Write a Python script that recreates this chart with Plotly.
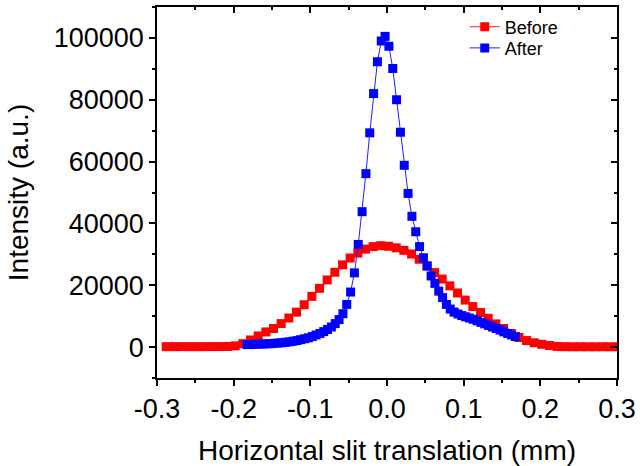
import plotly.graph_objects as go

# ---------------- data ----------------
before_x = [-0.288, -0.278, -0.268, -0.258, -0.248, -0.238, -0.228, -0.218, -0.208, -0.198,
            -0.188, -0.178, -0.168, -0.158, -0.148, -0.138, -0.128, -0.118, -0.108, -0.098,
            -0.088, -0.078, -0.068, -0.058, -0.048, -0.038, -0.028, -0.018, -0.008, 0.002,
            0.012, 0.022, 0.032, 0.042, 0.052, 0.062, 0.072, 0.082, 0.092, 0.102,
            0.112, 0.122, 0.132, 0.142, 0.152, 0.162, 0.172, 0.182, 0.192, 0.202,
            0.212, 0.222, 0.232, 0.242, 0.252, 0.262, 0.272, 0.282, 0.292, 0.302]
before_y = [150, 140, 160, 150, 140, 150, 160, 170, 200, 400,
            1100, 2300, 3600, 4900, 6000, 7600, 9400, 11300, 13700, 16400,
            19000, 21700, 24200, 26600, 28800, 30400, 31700, 32500, 32800, 32600,
            32100, 31300, 30100, 28400, 26300, 24100, 22000, 19800, 17500, 15200,
            13100, 11200, 9300, 7500, 6000, 4400, 3100, 2100, 1400, 900,
            500, 200, 120, 100, 110, 100, 100, 110, 100, 100]

after_x = [-0.1825, -0.1775, -0.1725, -0.1675, -0.1625, -0.1575, -0.1525, -0.1475, -0.1425, -0.1375,
           -0.1325, -0.1275, -0.1225, -0.1175, -0.1125, -0.1075, -0.1025, -0.0975, -0.0925, -0.0875,
           -0.0825, -0.0775, -0.0725, -0.0675, -0.0625, -0.0575, -0.0525, -0.0475, -0.0425, -0.0375,
           -0.0325, -0.0275, -0.0225, -0.0175, -0.0125, -0.0075, -0.0025, 0.0025, 0.0075, 0.0125,
           0.0175, 0.0225, 0.0275, 0.0325, 0.0375, 0.0425, 0.0475, 0.0525, 0.0575, 0.0625,
           0.0675, 0.0725, 0.0775, 0.0825, 0.0875, 0.0925, 0.0975, 0.1025, 0.1075, 0.1125,
           0.1175, 0.1225, 0.1275, 0.1325, 0.1375, 0.1425, 0.1475, 0.1525, 0.1575, 0.1625,
           0.1675]
after_y = [800, 850, 900, 950, 1000, 1050, 1100, 1200, 1300, 1400,
           1550, 1700, 1900, 2100, 2400, 2700, 3000, 3400, 3900, 4400,
           5000, 5700, 6500, 7600, 8900, 10800, 13800, 17800, 24000, 33200,
           43800, 56100, 69300, 82000, 92300, 99000, 100500, 97300, 90100, 80000,
           69500, 58800, 49700, 42300, 37300, 32500, 28900, 26200, 23000, 20600,
           18100, 16000, 13800, 12300, 11300, 10700, 10200, 9800, 9400, 9000,
           8500, 8000, 7500, 7000, 6500, 6000, 5500, 4900, 4400, 3900,
           3400]

x_tickvals = [-0.3, -0.2, -0.1, 0.0, 0.1, 0.2, 0.3]
x_ticktext = ["-0.3", "-0.2", "-0.1", "0.0", "0.1", "0.2", "0.3"]
y_tickvals = [0, 20000, 40000, 60000, 80000, 100000]
y_ticktext = ["0", "20000", "40000", "60000", "80000", "100000"]

FONT = "Liberation Sans, Arial, sans-serif"
XR = [-0.3, 0.3]
YR = [-10000, 110000]

fig = go.Figure()
fig.add_trace(go.Scatter(
    x=before_x, y=before_y, name="Before", mode="lines+markers",
    line=dict(color="#ff2020", width=1),
    marker=dict(symbol="square", size=9, color="#ff0000", line=dict(width=0)),
    legend="legend",
))
fig.add_trace(go.Scatter(
    x=after_x, y=after_y, name="After", mode="lines+markers",
    line=dict(color="#2020ff", width=1),
    marker=dict(symbol="square", size=9, color="#0000ff", line=dict(width=0)),
    legend="legend2",
))

axis_common = dict(showgrid=False, zeroline=False, linecolor="black", linewidth=1.5,
                   tickcolor="black", tickwidth=1.5, automargin=False,
                   tickfont=dict(family=FONT, size=27, color="black"))

legend_common = dict(xanchor="left", yanchor="middle", bgcolor="rgba(0,0,0,0)",
                     font=dict(family=FONT, size=18), itemwidth=30)

fig.update_layout(
    width=640, height=466,
    margin=dict(l=157, r=23, t=7, b=88),
    paper_bgcolor="white", plot_bgcolor="white",
    font=dict(family=FONT, color="black"),
    showlegend=True,
    legend=dict(x=0.669, y=0.946, **legend_common),
    legend2=dict(x=0.669, y=0.889, **legend_common),
    xaxis=dict(range=XR, tickvals=x_tickvals, ticktext=x_ticktext,
               ticks="outside", ticklen=6, showline=True, mirror=True,
               minor=dict(dtick=0.05, tick0=0, ticks="outside", ticklen=3,
                          tickwidth=1.5, tickcolor="black"),
               title=dict(text="Horizontal slit translation (mm)",
                          font=dict(family=FONT, size=28), standoff=19),
               **axis_common),
    yaxis=dict(range=YR, tickvals=y_tickvals, ticktext=y_ticktext,
               ticks="outside", ticklen=6, showline=True, mirror=True,
               minor=dict(dtick=10000, tick0=0, ticks="outside", ticklen=3,
                          tickwidth=1.5, tickcolor="black"),
               title=dict(text="Intensity (a.u.)",
                          font=dict(family=FONT, size=28), standoff=17),
               **axis_common),
    xaxis2=dict(range=XR, overlaying="x", side="top", tickvals=x_tickvals,
                showticklabels=False, ticks="inside", ticklen=6, showline=False,
                minor=dict(dtick=0.05, tick0=0, ticks="inside", ticklen=3,
                           tickwidth=1.5, tickcolor="black"),
                automargin=False,
                showgrid=False, zeroline=False, tickcolor="black", tickwidth=1.5),
    yaxis2=dict(range=YR, overlaying="y", side="right", tickvals=y_tickvals,
                showticklabels=False, ticks="inside", ticklen=6, showline=False,
                minor=dict(dtick=10000, tick0=0, ticks="inside", ticklen=3,
                           tickwidth=1.5, tickcolor="black"),
                automargin=False,
                showgrid=False, zeroline=False, tickcolor="black", tickwidth=1.5),
)

# invisible helper trace so the mirrored (inside-tick) axes are drawn
fig.add_trace(go.Scatter(x=[XR[0]], y=[YR[0]], xaxis="x2", yaxis="y2",
                         mode="markers", marker=dict(opacity=0),
                         showlegend=False, hoverinfo="skip"))

fig.write_html("out.html",
               config={"displayModeBar": False},
               post_script="document.body.style.margin='0';document.body.style.padding='0';")
